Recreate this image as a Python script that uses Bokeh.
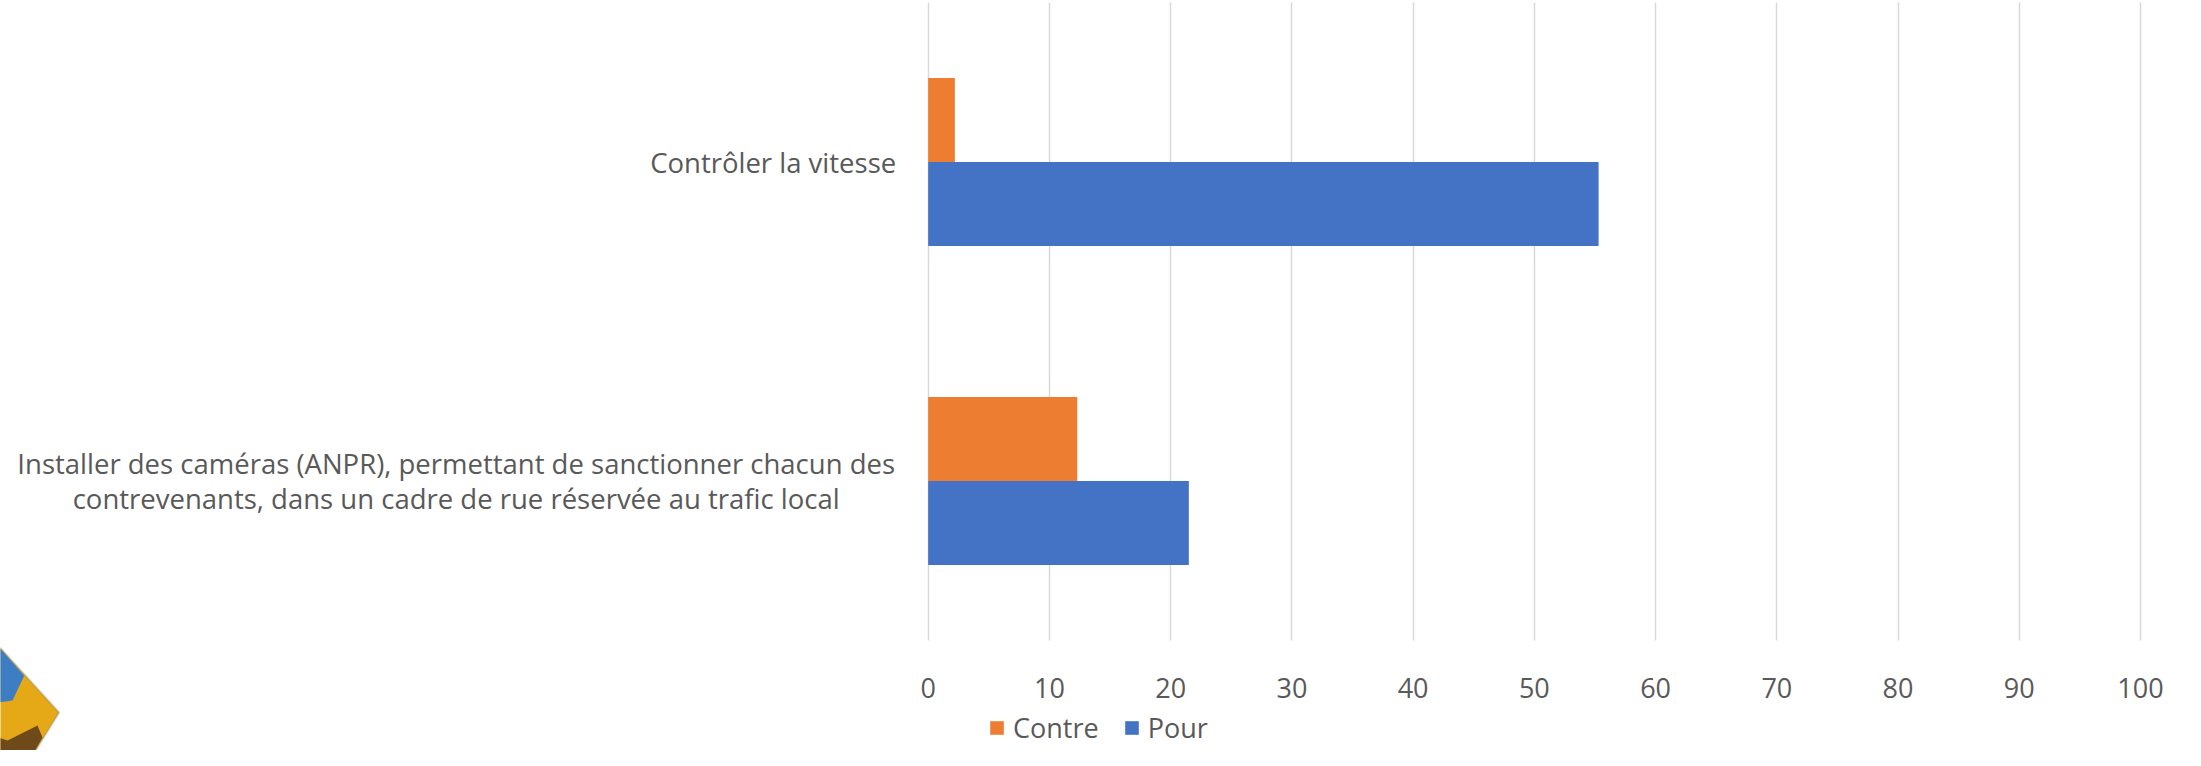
from bokeh.plotting import figure
from bokeh.models import (Range1d, FixedTicker, ColumnDataSource,
                          Legend, LegendItem, PolyAnnotation)
from bokeh.transform import dodge
from bokeh.core.properties import value
from bokeh.embed import file_html
from bokeh.resources import INLINE

# ---- data ----
categories = [
    "Installer des caméras (ANPR), permettant de sanctionner chacun des\ncontrevenants, dans un cadre de rue réservée au trafic local",
    "Contrôler la vitesse",
]
contre = [12.3, 2.2]
pour = [21.5, 55.3]
series_names = ["Contre", "Pour"]
series_colors = ["#ED7D31", "#4472C4"]
x_ticks = [0, 10, 20, 30, 40, 50, 60, 70, 80, 90, 100]

FONT = "Open Sans"
TXT = "#595959"

# category bands: category i occupies [i, i+1] on the y scale
ypos = [i + 0.5 for i in range(len(categories))]
src = ColumnDataSource(dict(cat=categories, y=ypos, contre=contre, pour=pour))

# the frame spans the whole canvas; labels column at x < 0, axis/legend below y = 0
p = figure(
    width=2185, height=750,
    x_range=Range1d(-76.52, 103.71),
    y_range=Range1d(-0.3448, 2.0063),
    output_backend="svg", toolbar_location=None,
    min_border=0,
)
p.outline_line_color = None
p.background_fill_color = "white"
p.border_fill_color = "white"

bar_h = 0.263
r_contre = p.hbar(y=dodge("y", 0.1315), right="contre", left=0,
                  height=bar_h, source=src, color=series_colors[0], line_color=None)
r_pour = p.hbar(y=dodge("y", -0.1315), right="pour", left=0,
                height=bar_h, source=src, color=series_colors[1], line_color=None)

# category labels (right-aligned block, lines centred inside the block)
p.text(x=[0], y=[ypos[1]], text=[categories[1]], x_offset=-32,
       text_align="right", text_baseline="middle",
       text_font=value(FONT), text_font_size="27.5px", text_color=TXT)
p.text(x=[0], y=[ypos[0]], text=[categories[0]], x_offset=-472,
       text_align="center", text_baseline="middle", text_line_height=0.95,
       text_font=value(FONT), text_font_size="27.5px", text_color=TXT)

# grid / axes
p.ygrid.grid_line_color = None
p.xgrid.grid_line_color = "#d9d9d9"
p.xgrid.grid_line_width = 1.5
p.xgrid.cross_bounds = (0, len(categories))
p.xaxis.ticker = FixedTicker(ticks=x_ticks)
p.xaxis.fixed_location = 0
p.yaxis.visible = False

p.xaxis.axis_line_color = None
p.xaxis.major_tick_line_color = None
p.xaxis.minor_tick_line_color = None
p.xaxis.major_label_text_font = FONT
p.xaxis.major_label_text_font_size = "27px"
p.xaxis.major_label_text_color = TXT
p.xaxis.major_label_standoff = 31

legend = Legend(
    items=[LegendItem(label=series_names[0], renderers=[r_contre]),
           LegendItem(label=series_names[1], renderers=[r_pour])],
    orientation="horizontal",
    location=(988, 4),
    label_text_font=FONT, label_text_font_size="27px", label_text_color=TXT,
    glyph_width=17, glyph_height=17, label_standoff=8, spacing=24,
    padding=0, margin=0, border_line_color=None, background_fill_alpha=0,
)
p.add_layout(legend, "center")

# logo (decoration, bottom-left corner), in screen pixels
p.add_layout(PolyAnnotation(xs=[-18, 58.7, 21.7, -18], ys=[122.3, 38, -22, -22],
                            xs_units="screen", ys_units="screen",
                            fill_color="#E5A817", fill_alpha=1,
                            line_color="#7f7f7f", line_width=2))
p.add_layout(PolyAnnotation(xs=[-18, 23.7, 12, -18], ys=[122.3, 74.7, 50, 46],
                            xs_units="screen", ys_units="screen",
                            fill_color="#3C7DC4", fill_alpha=1, line_color=None))
p.add_layout(PolyAnnotation(xs=[-18, 7, 37, 42, 30, 21.7, -18], ys=[18, 10, 25, 13, -8, -22, -22],
                            xs_units="screen", ys_units="screen",
                            fill_color="#6E4A1A", fill_alpha=1, line_color=None))

open("out.html", "w").write(file_html(p, INLINE))
